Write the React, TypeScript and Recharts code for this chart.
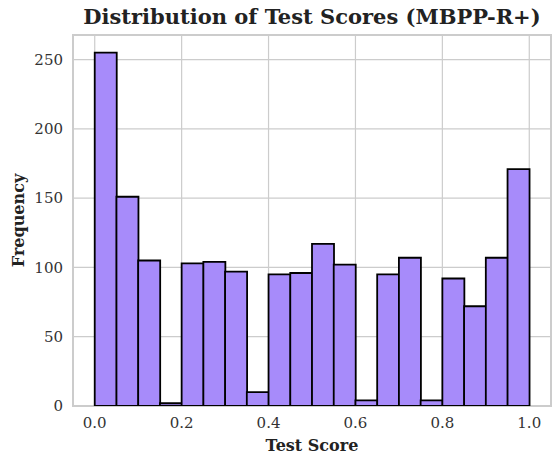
import {
  Bar,
  BarChart,
  CartesianGrid,
  Label,
  ReferenceArea,
  XAxis,
  YAxis,
} from "recharts";

// histogram of scores, 20 bins of width 0.05 on [0, 1]
const binStarts = [
  0.0, 0.05, 0.1, 0.15, 0.2, 0.25, 0.3, 0.35, 0.4, 0.45,
  0.5, 0.55, 0.6, 0.65, 0.7, 0.75, 0.8, 0.85, 0.9, 0.95,
];
const counts = [
  255, 151, 105, 2, 103, 104, 97, 10, 95, 96,
  117, 102, 4, 95, 107, 4, 92, 72, 107, 171,
];
const binWidth = 0.05;
const xTicks = [0, 0.2, 0.4, 0.6, 0.8, 1.0];
const yTicks = [0, 50, 100, 150, 200, 250];

const data = binStarts.map((s, i) => ({
  mid: s + binWidth / 2,
  count: counts[i],
}));

const FONT = "'DejaVu Serif', serif";
const GRID = "#cccccc";

export default function App() {
  return (
    <div
      style={{
        position: "absolute",
        left: 0,
        top: 0,
        width: 553,
        height: 460,
        background: "#fff",
        fontFamily: FONT,
      }}
    >
      <div
        style={{
          position: "absolute",
          left: 73,
          width: 478,
          top: 4,
          textAlign: "center",
          fontSize: 21,
          fontWeight: "bold",
          color: "#222",
          whiteSpace: "nowrap",
        }}
      >
        Distribution of Test Scores (MBPP-R+)
      </div>
      <BarChart
        width={553}
        height={460}
        data={data}
        margin={{ top: 35, right: 2, bottom: 24, left: 5 }}
        barCategoryGap={0}
        barGap={0}
      >
        <CartesianGrid stroke={GRID} strokeWidth={1.2} />
        <XAxis
          dataKey="mid"
          type="number"
          domain={[-0.05, 1.05]}
          ticks={xTicks}
          tickFormatter={(v: number) => v.toFixed(1)}
          axisLine={false}
          tickLine={false}
          tickSize={0}
          tickMargin={11}
          height={30}
          tick={{ fontSize: 15, fill: "#333", fontFamily: FONT }}
          allowDataOverflow
        >
          <Label
            value="Test Score"
            position="bottom"
            offset={4}
            style={{ fontSize: 16, fontWeight: "bold", fill: "#222", fontFamily: FONT }}
          />
        </XAxis>
        <YAxis
          type="number"
          domain={[0, 267.75]}
          ticks={yTicks}
          axisLine={false}
          tickLine={false}
          tickSize={0}
          tickMargin={10}
          width={68}
          tick={{ fontSize: 15, fill: "#333", fontFamily: FONT }}
          allowDataOverflow
        >
          <Label
            value="Frequency"
            angle={-90}
            position="insideLeft"
            offset={13}
            style={{
              fontSize: 16,
              fontWeight: "bold",
              fill: "#222",
              fontFamily: FONT,
              textAnchor: "middle",
            }}
          />
        </YAxis>
        <ReferenceArea
          x1={-0.05}
          x2={1.05}
          y1={0}
          y2={267.75}
          fill="none"
          fillOpacity={0}
          stroke={GRID}
          strokeWidth={2}
          ifOverflow="extendDomain"
        />
        <Bar
          dataKey="count"
          fill="#a78bfa"
          stroke="#000"
          strokeWidth={1.8}
          isAnimationActive={false}
        />
      </BarChart>
    </div>
  );
}
